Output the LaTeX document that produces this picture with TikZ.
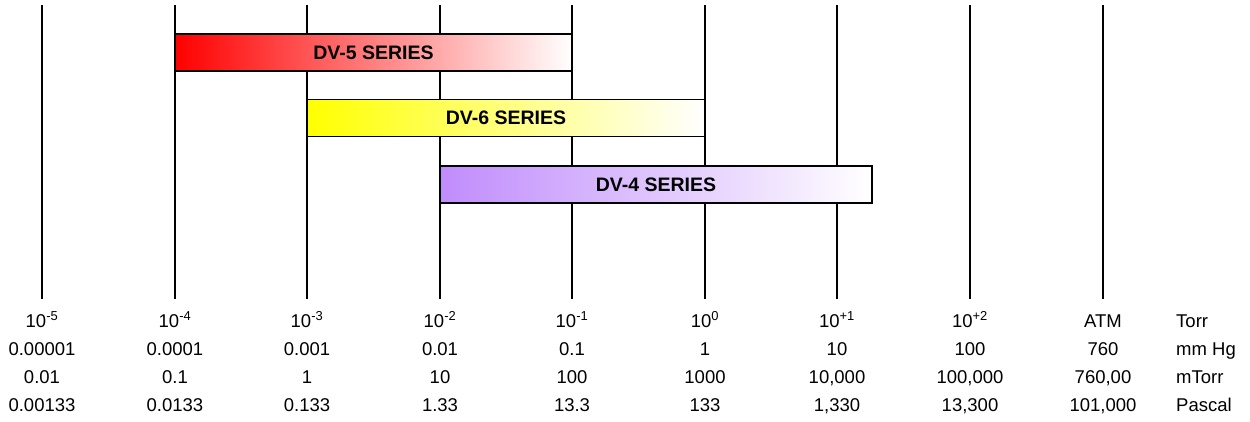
\documentclass[tikz,border=0pt]{standalone}
\usepackage{fontspec}
\setmainfont{Liberation Sans}
\tikzset{
  scaleline/.style={line width=2.4pt},
  seriesbar/.style={draw=black, line width=1.5pt, minimum height=37pt, inner sep=0pt,
    font=\fontsize{19.5}{22}\selectfont\bfseries},
  vallabel/.style={font=\fontsize{18.5}{20}\selectfont, inner sep=0pt, anchor=base},
  unitlabel/.style={vallabel, anchor=base west},
}
\definecolor{lilac}{RGB}{192,140,252}
\begin{document}
\begin{tikzpicture}[x=1pt,y=-1pt]
\useasboundingbox (0,0) rectangle (1250,421);
\foreach \i/\x in {1/42,2/175,3/307,4/440,5/572,6/705,7/837,8/970,9/1103}{
  \coordinate (top\i) at (\x,5);
  \coordinate (bot\i) at (\x,299);
  \draw[scaleline] (top\i) -- (bot\i);
}
\node[seriesbar, left color=red, right color=white, minimum width=397pt] (dvfive) at (373.5,52.5) {DV-5 SERIES};
\node[seriesbar, left color=yellow, right color=white, minimum width=398pt] (dvsix) at (506,118) {DV-6 SERIES};
\node[seriesbar, left color=lilac, right color=white, minimum width=432pt] (dvfour) at (656,184.5) {DV-4 SERIES};
\foreach \i/\x/\a/\b/\c/\d in {
  1/42/{10\textsuperscript{-5}}/0.00001/0.01/0.00133,
  2/175/{10\textsuperscript{-4}}/0.0001/0.1/0.0133,
  3/307/{10\textsuperscript{-3}}/0.001/1/0.133,
  4/440/{10\textsuperscript{-2}}/0.01/10/1.33,
  5/572/{10\textsuperscript{-1}}/0.1/100/13.3,
  6/705/{10\textsuperscript{0}}/1/1000/133,
  7/837/{10\textsuperscript{+1}}/10/{10,000}/{1,330},
  8/970/{10\textsuperscript{+2}}/100/{100,000}/{13,300},
  9/1103/ATM/760/{760,00}/{101,000}}{
  \node[vallabel] (torr\i) at (\x,327) {\a};
  \node[vallabel] (mmhg\i) at (\x,355) {\b};
  \node[vallabel] (mtorr\i) at (\x,383) {\c};
  \node[vallabel] (pascal\i) at (\x,411) {\d};
}
\node[unitlabel] (torrunit) at (1176,327) {Torr};
\node[unitlabel] (mmhgunit) at (1176,355) {mm Hg};
\node[unitlabel] (mtorrunit) at (1176,383) {mTorr};
\node[unitlabel] (pascalunit) at (1176,411) {Pascal};
\end{tikzpicture}
\end{document}
